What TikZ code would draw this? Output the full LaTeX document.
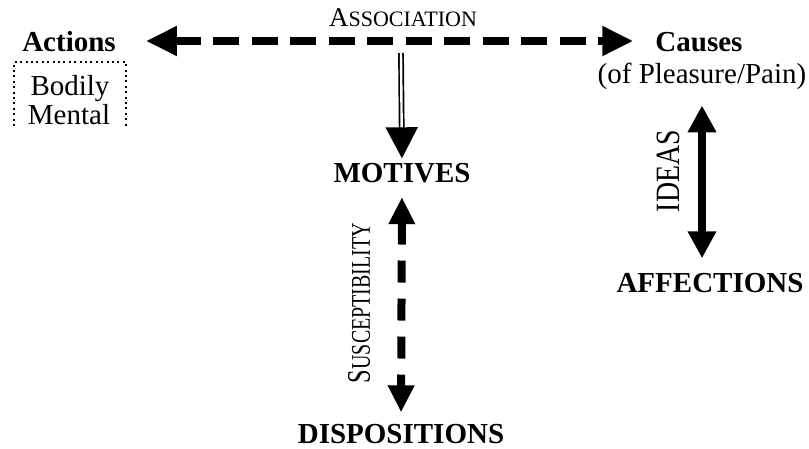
\documentclass[tikz,border=0pt]{standalone}
\usepackage{fontspec}
\setmainfont{Liberation Serif}
\usepackage{graphicx}
\usetikzlibrary{arrows.meta}

\tikzset{
  % big bold labels and plain labels, placed by their baselines
  heading/.style={inner sep=0pt, anchor=base, font=\fontsize{29}{33}\selectfont\bfseries,
                  text height=19.5pt, text depth=0pt},
  plain/.style={inner sep=0pt, anchor=base, font=\fontsize{29}{33}\selectfont},
  sidelabel/.style={inner sep=0pt, rotate=90},
  % arrow heads
  wideH/.tip={Triangle[length=31pt,width=28pt]},
  narrowV/.tip={Triangle[length=27pt,width=25pt]},
  ideaV/.tip={Triangle[length=27pt,width=27pt]},
  dblV/.tip={Triangle[length=31pt,width=32pt]},
  % connector styles
  thickdash/.style={line width=8pt, dash pattern=on 26pt off 12.5pt},
  thicksolid/.style={line width=8pt},
  dblline/.style={double, line width=1.7pt, double distance=2.4pt},
  dottedbox/.style={line width=2.4pt, dash pattern=on 2pt off 3.4pt}
}

\begin{document}
\begin{tikzpicture}[x=1pt,y=-1pt]
\useasboundingbox (0,0) rectangle (809,449);

% Top row
\node[heading, text height=21pt] (act) at (69,51.5) {Actions};
\node[heading, text height=21pt] (cau) at (699,51.5) {Causes};
\node[plain] (sub) at (702,84) {(of Pleasure/Pain)};
\node[inner sep=0pt, anchor=base] (asc) at (403,27)
  {\fontsize{27}{30}\selectfont A\fontsize{22}{26}\selectfont SSOCIATION};

% Kinds of action, in a dotted frame open at the bottom
\node[plain] (bod) at (70,96) {Bodily};
\node[plain] (men) at (69,125) {Mental};
\draw[dottedbox] (14,126) -- (14,62) -- (126,62) -- (126,126);

% Middle column
\node[heading] (mot) at (402,183) {MOTIVES};
\node[heading] (dis) at (401,443.5) {DISPOSITIONS};
\node[sidelabel] (sus) at (359,303)
  {\scalebox{0.74}[1]{\fontsize{33}{36}\selectfont S\fontsize{27}{30}\selectfont USCEPTIBILITY}};

% Right column
\node[heading] (aff) at (710,293) {AFFECTIONS};
\node[sidelabel] (ide) at (668,171)
  {\scalebox{0.82}[1]{\fontsize{34}{36}\selectfont IDEAS}};

% Connectors
\draw[thickdash, {wideH}-{wideH}, shorten <=30pt, shorten >=22pt] (act.east) -- (cau.west);

\coordinate (assocfoot) at (401,53);
\draw[dblline, -{dblV}, shorten >=5pt] (assocfoot) -- (mot.north);

\draw[thickdash, dash pattern=on 22pt off 16pt, {narrowV}-{narrowV}, shorten <=14pt, shorten >=11.5pt]
  (mot.south) -- (dis.north);

\draw[thicksolid, {ideaV}-{ideaV}, shorten <=15pt, shorten >=15pt]
  (sub.south) -- (sub.south |- aff.north);
\end{tikzpicture}
\end{document}
